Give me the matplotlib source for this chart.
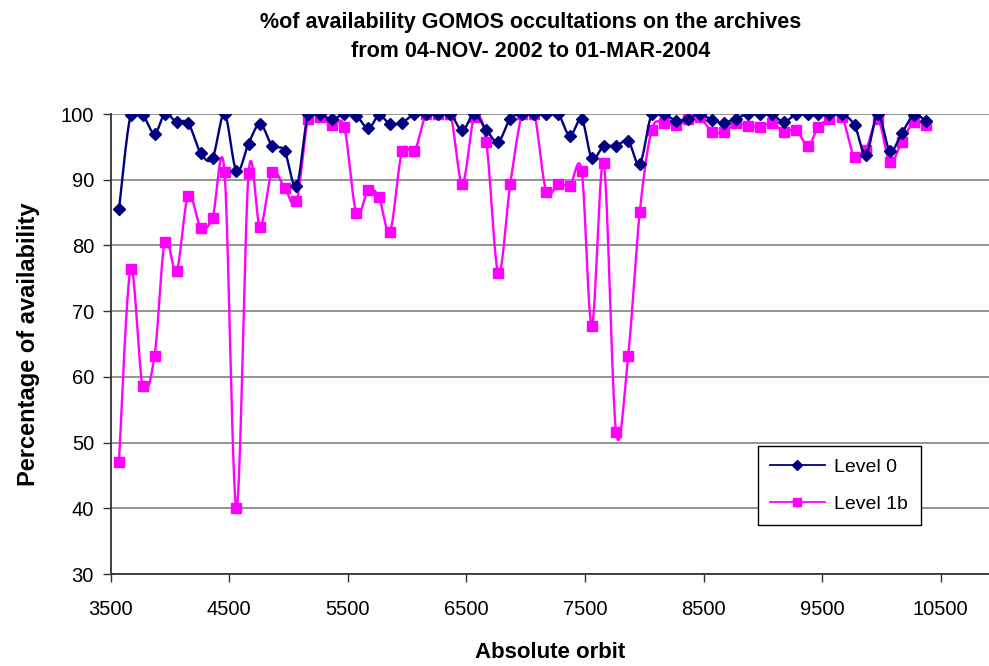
import numpy as np
import matplotlib
matplotlib.use('Agg')
import matplotlib.pyplot as plt

plt.rcParams['font.family'] = ['Liberation Sans', 'DejaVu Sans']

# absolute orbit of each weekly sample
orbit = [3570, 3668, 3770, 3870, 3957, 4056, 4154, 4261, 4359, 4460,
         4561, 4663, 4760, 4861, 4966, 5067, 5165, 5263, 5367, 5470,
         5572, 5673, 5763, 5856, 5957, 6061, 6162, 6264, 6365, 6465,
         6566, 6667, 6769, 6870, 6971, 7072, 7173, 7274, 7372, 7472,
         7558, 7658, 7762, 7864, 7962, 8063, 8167, 8268, 8366, 8467,
         8572, 8669, 8771, 8872, 8976, 9074, 9178, 9279, 9380, 9467,
         9560, 9667, 9773, 9869, 9970, 10071, 10172, 10273, 10374]

level0 = [85.5, 99.8, 99.8, 97.0, 100, 98.8, 98.6, 94.0, 93.3, 100,
          91.3, 95.5, 98.5, 95.2, 94.4, 89.0, 100, 100, 99.2, 100,
          99.7, 97.8, 99.8, 98.5, 98.7, 100, 100, 100, 100, 97.5,
          100, 97.6, 95.8, 99.3, 100, 100, 100, 100, 96.7, 99.2,
          93.3, 95.1, 95.1, 95.9, 92.4, 100, 100, 99.0, 99.3, 100,
          99.1, 98.7, 99.3, 100, 100, 100, 98.8, 100, 100, 100,
          100, 100, 98.3, 93.8, 100, 94.4, 97.1, 99.8, 99.0]

level1b = [47.1, 76.4, 58.6, 63.2, 80.6, 76.1, 87.6, 82.7, 84.2, 91.2,
           40.1, 91.0, 82.8, 91.2, 88.8, 86.7, 99.2, 99.5, 98.3, 98.0,
           84.9, 88.5, 87.3, 82.1, 94.3, 94.3, 100, 100, 100, 89.4,
           99.5, 95.8, 75.8, 89.4, 100, 100, 88.2, 89.4, 89.1, 91.3,
           67.8, 92.5, 51.6, 63.2, 85.1, 97.6, 98.6, 98.3, 99.2, 99.5,
           97.3, 97.3, 98.6, 98.2, 98.0, 98.6, 97.3, 97.6, 95.2, 98.0,
           99.2, 99.5, 93.4, 94.6, 99.2, 92.7, 95.8, 98.8, 98.3]


def smooth(x, y, n=20):
    # Catmull-Rom style smoothing like Excel's "smoothed line"
    x = np.asarray(x, float)
    y = np.asarray(y, float)
    px = np.concatenate([[x[0]], x, [x[-1]]])
    py = np.concatenate([[y[0]], y, [y[-1]]])
    xs, ys = [], []
    t = np.linspace(0, 1, n, endpoint=False)
    for i in range(1, len(px) - 2):
        p0x, p1x, p2x, p3x = px[i - 1:i + 3]
        p0y, p1y, p2y, p3y = py[i - 1:i + 3]
        c1x, c1y = p1x + (p2x - p0x) / 6, p1y + (p2y - p0y) / 6
        c2x, c2y = p2x - (p3x - p1x) / 6, p2y - (p3y - p1y) / 6
        b0 = (1 - t) ** 3
        b1 = 3 * (1 - t) ** 2 * t
        b2 = 3 * (1 - t) * t ** 2
        b3 = t ** 3
        xs.append(b0 * p1x + b1 * c1x + b2 * c2x + b3 * p2x)
        ys.append(b0 * p1y + b1 * c1y + b2 * c2y + b3 * p2y)
    xs.append([x[-1]])
    ys.append([y[-1]])
    return np.concatenate(xs), np.concatenate(ys)


navy = '#000080'
magenta = '#FF00FF'

fig = plt.figure(figsize=(9.89, 6.66), dpi=100)
ax = fig.add_axes([0.1119, 0.1381, 0.8881, 0.6907])

sx, sy = smooth(orbit, level0)
ax.plot(sx, sy, color=navy, lw=1.7, zorder=4)
ax.plot(orbit, level0, ls='none', marker='D', ms=6, color=navy, zorder=5)

sx, sy = smooth(orbit, level1b)
ax.plot(sx, sy, color=magenta, lw=1.7, zorder=2)
ax.plot(orbit, level1b, ls='none', marker='s', ms=7, color=magenta, zorder=3)

# legend proxies
ax.plot([], [], color=navy, lw=1.3, marker='D', ms=5, label='Level 0')
ax.plot([], [], color=magenta, lw=1.3, marker='s', ms=6, label='Level 1b')

ax.set_xlim(3500, 10907)
ax.set_ylim(30, 100)
ax.set_xticks(np.arange(3500, 10501, 1000))
ax.set_yticks(np.arange(30, 101, 10))
ax.yaxis.grid(True, color='#808080', lw=1.2, zorder=0)
ax.set_axisbelow(True)
for s in ['top', 'right']:
    ax.spines[s].set_visible(False)
for s in ['left', 'bottom']:
    ax.spines[s].set_color('#333333')
    ax.spines[s].set_linewidth(1.3)
ax.tick_params(axis='both', direction='out', length=6, width=1, color='#333333',
               labelsize=14.5)
ax.tick_params(axis='x', pad=13)
ax.tick_params(axis='y', pad=6)

ax.set_xlabel('Absolute orbit', fontsize=16, fontweight='bold', labelpad=16)
ax.set_ylabel('Percentage of availability', fontsize=17, fontweight='bold', labelpad=15)

fig.text(0.537, 0.982, '%of availability GOMOS occultations on the archives\nfrom 04-NOV- 2002 to 01-MAR-2004',
         ha='center', va='top', fontsize=15.5, fontweight='bold', linespacing=1.5)

leg = ax.legend(loc='upper left', bbox_to_anchor=(0.766, 0.331),
                bbox_transform=fig.transFigure, borderaxespad=0, fontsize=14,
                frameon=True, fancybox=False, edgecolor='black', framealpha=1,
                borderpad=0.65, labelspacing=1.0, handlelength=2.8,
                handletextpad=0.5)
leg.get_frame().set_linewidth(1)

fig.savefig('out.png', dpi=100)
